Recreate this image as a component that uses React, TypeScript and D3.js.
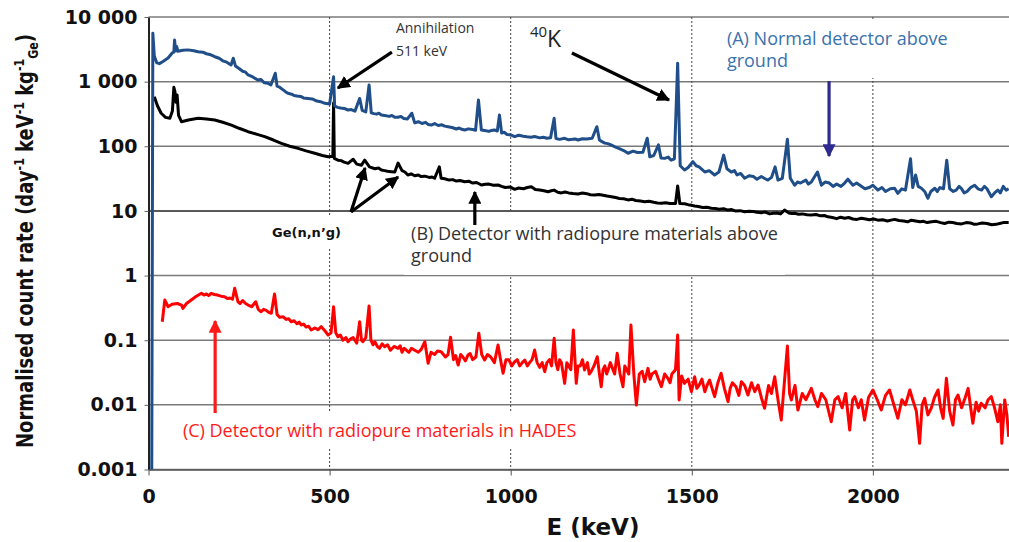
import * as d3 from 'd3';
import { useEffect, useRef } from 'react';

// energy axis (keV) and count-rate axis (log)
const xTicks = [0, 500, 1000, 1500, 2000];
const xTickLabels = ['0', '500', '1000', '1500', '2000'];
const yTicks = [0.001, 0.01, 0.1, 1, 10, 100, 1000, 10000];
const yTickLabels = ['0.001', '0.01', '0.1', '1', '10', '100', '1 000', '10 000'];

// (A) normal detector above ground: [keV, counts/day/keV/kg]
const spectrumA: [number, number][] = [
  [9, 0.001], [12, 5600], [16, 2500], [23, 1950], [30, 1900], [40, 2050], [54, 2320], [66, 2800],
  [70, 2870], [72, 4400], [75, 3000], [78, 3500], [81, 2950], [95, 3050], [109, 3100], [125, 3000],
  [137, 2900], [150, 2850], [160, 2700], [172, 2600], [183, 2430], [195, 2300], [205, 2100],
  [216, 2000], [228, 1810], [234, 2300], [240, 1750], [250, 1600], [260, 1450], [268, 1400],
  [275, 1270], [288, 1180], [302, 1060], [310, 1080], [320, 960], [330, 940], [338, 890], [350, 1350],
  [355, 850], [362, 820], [370, 760], [378, 700], [385, 660], [395, 640], [402, 610], [410, 600],
  [420, 590], [428, 560], [440, 550], [452, 540], [465, 500], [475, 490], [487, 462], [500, 450],
  [511, 1190], [514, 420], [522, 400], [530, 390], [540, 385], [551, 364], [560, 370], [570, 350],
  [583, 550], [590, 360], [600, 340], [609, 890], [615, 330], [622, 320], [630, 315], [636, 325],
  [643, 305], [652, 300], [665, 290], [672, 300], [680, 282], [689, 281], [697, 290], [705, 270],
  [715, 265], [727, 324], [735, 230], [745, 240], [755, 225], [765, 235], [772, 218], [781, 213],
  [790, 225], [800, 210], [810, 215], [818, 205], [827, 201], [838, 195], [850, 185], [858, 192],
  [865, 183], [873, 179], [883, 186], [895, 182], [903, 177], [911, 520], [919, 179], [928, 175],
  [940, 170], [947, 176], [955, 179], [963, 172], [969, 305], [975, 160], [982, 165], [990, 152],
  [1000, 150], [1011, 141], [1022, 148], [1035, 143], [1045, 140], [1056, 138], [1066, 142],
  [1080, 135], [1090, 138], [1100, 133], [1110, 135], [1120, 271], [1125, 132], [1135, 128],
  [1149, 133], [1160, 126], [1170, 128], [1178, 130], [1186, 125], [1198, 131], [1210, 130],
  [1225, 133], [1238, 201], [1245, 125], [1252, 118], [1260, 112], [1268, 110], [1277, 105],
  [1288, 98], [1300, 92], [1312, 86], [1324, 78], [1338, 84], [1350, 80], [1365, 81], [1377, 133],
  [1384, 69], [1395, 72], [1408, 105], [1415, 66], [1425, 65], [1435, 68], [1443, 61], [1452, 64],
  [1461, 1920], [1468, 50], [1480, 43], [1490, 47], [1503, 58], [1512, 50], [1520, 48], [1528, 44],
  [1536, 40], [1548, 42], [1563, 36], [1575, 40], [1588, 73], [1597, 45], [1609, 40], [1618, 42],
  [1625, 36], [1635, 38], [1646, 32], [1658, 35], [1670, 34], [1680, 31], [1692, 34], [1700, 32],
  [1710, 30], [1720, 33], [1730, 48], [1738, 30], [1750, 32], [1764, 128], [1772, 32], [1784, 25],
  [1792, 28], [1800, 27], [1815, 30], [1822, 26], [1830, 28], [1847, 40], [1858, 25], [1868, 28],
  [1880, 27], [1890, 24], [1900, 26], [1912, 24], [1922, 27], [1931, 31], [1945, 25], [1955, 27],
  [1968, 24], [1978, 22], [1990, 23], [2000, 25], [2014, 21], [2025, 23], [2035, 20], [2048, 22],
  [2060, 22.4], [2069, 18.7], [2080, 22], [2090, 21], [2104, 64], [2110, 23], [2118, 36], [2125, 24],
  [2134, 22.4], [2143, 20], [2152, 15.7], [2160, 20], [2171, 22.4], [2178, 20], [2185, 23],
  [2195, 22], [2204, 61], [2212, 22], [2222, 20], [2230, 21], [2238, 24], [2244, 22.4], [2252, 19],
  [2260, 20], [2270, 23], [2281, 25], [2290, 22], [2300, 21], [2308, 24], [2315, 22], [2327, 16.6],
  [2336, 19], [2345, 21], [2352, 19], [2360, 24], [2368, 21], [2375, 22],
];

// (B) radiopure materials above ground
const spectrumB: [number, number][] = [
  [16, 585], [25, 420], [35, 324], [47, 280], [59, 271], [66, 350], [70, 817], [73, 700], [76, 480],
  [79, 620], [83, 300], [91, 240], [110, 255], [137, 271], [160, 265], [183, 255], [205, 235],
  [229, 213], [250, 190], [275, 168], [300, 153], [321, 141], [345, 125], [367, 111], [390, 100],
  [413, 93], [435, 85], [459, 78], [480, 72], [496, 69], [509, 70], [511, 467], [513, 65], [523, 61],
  [532, 60], [540, 57], [551, 54.5], [565, 63], [575, 53], [588, 51], [597, 61], [610, 48],
  [625, 45], [635, 46], [643, 43], [652, 42], [660, 41], [670, 40.5], [680, 40], [689, 55], [700, 42],
  [708, 40], [716, 36], [725, 37.5], [735, 35], [745, 36], [753, 34], [763, 34.5], [775, 33],
  [783, 33.5], [790, 32], [803, 48], [808, 32], [818, 31.5], [830, 30], [840, 30.5], [850, 29],
  [860, 29.5], [873, 28.3], [884, 28.8], [895, 27], [906, 27.5], [919, 25.2], [930, 25.8], [940, 26],
  [952, 25], [965, 25.2], [975, 24], [985, 23], [998, 23.5], [1011, 21.6], [1022, 22.6], [1035, 22],
  [1046, 23], [1057, 23.7], [1068, 21.5], [1080, 21], [1092, 20.5], [1103, 19.8], [1112, 20.5],
  [1120, 21], [1130, 19.5], [1140, 19], [1150, 19.6], [1160, 19], [1172, 18.6], [1186, 18.3],
  [1198, 18.9], [1210, 18.5], [1220, 17.8], [1232, 17.6], [1244, 18], [1255, 17.5], [1266, 17],
  [1278, 16.6], [1290, 16.1], [1300, 15.6], [1312, 15.4], [1324, 14.8], [1335, 15.2], [1345, 14.5],
  [1358, 14.2], [1370, 13.9], [1382, 14.1], [1395, 13.6], [1405, 13.3], [1416, 13.1], [1428, 13.4],
  [1440, 13], [1455, 13], [1461, 24.3], [1467, 13], [1480, 12.9], [1490, 12.5], [1500, 12.2],
  [1508, 11.9], [1518, 11.7], [1530, 11.3], [1542, 11.4], [1554, 11.0], [1565, 10.9], [1575, 10.6],
  [1588, 10.8], [1600, 10.3], [1610, 10.5], [1620, 10], [1633, 10.1], [1646, 9.7], [1658, 9.9],
  [1670, 9.8], [1680, 9.5], [1692, 9.4], [1703, 9.6], [1715, 9], [1725, 9.2], [1735, 9.3],
  [1745, 9.0], [1756, 10.3], [1768, 9.3], [1776, 9.1], [1784, 9.2], [1795, 8.9], [1805, 9],
  [1818, 8.7], [1830, 8.65], [1843, 8.8], [1855, 8.4], [1866, 8.5], [1876, 8.1], [1888, 7.9],
  [1900, 7.6], [1911, 8.0], [1922, 7.7], [1933, 7.9], [1945, 7.5], [1956, 7.4], [1968, 7.7],
  [1980, 7.5], [1990, 7.3], [2002, 7.5], [2014, 7.2], [2027, 7.3], [2040, 7.0], [2050, 7.2],
  [2060, 7.4], [2072, 7.1], [2085, 7.0], [2096, 6.8], [2106, 7.2], [2118, 7.0], [2130, 6.8],
  [2140, 6.9], [2150, 6.6], [2162, 6.8], [2175, 6.9], [2187, 6.6], [2198, 6.4], [2210, 6.7],
  [2220, 6.6], [2232, 6.4], [2245, 6.3], [2258, 6.6], [2270, 6.5], [2280, 6.2], [2290, 6.3],
  [2302, 6.5], [2315, 6.4], [2328, 6.1], [2340, 6.2], [2350, 6.4], [2360, 6.6], [2375, 6.6],
];

// (C) radiopure materials in HADES (underground)
const spectrumC: [number, number][] = [
  [38, 0.193], [45, 0.419], [54, 0.33], [65, 0.36], [80, 0.37], [91, 0.35], [95, 0.311], [105, 0.37],
  [118, 0.419], [130, 0.47], [146, 0.532], [153, 0.5], [160, 0.52], [166, 0.49], [173, 0.532],
  [182, 0.51], [190, 0.5], [200, 0.48], [210, 0.471], [218, 0.44], [225, 0.45], [232, 0.43],
  [238, 0.635], [247, 0.394], [253, 0.37], [260, 0.41], [268, 0.37], [275, 0.35], [285, 0.33],
  [296, 0.394], [303, 0.3], [311, 0.276], [318, 0.3], [325, 0.29], [332, 0.27], [339, 0.261],
  [348, 0.518], [355, 0.25], [362, 0.226], [372, 0.23], [380, 0.21], [387, 0.215], [394, 0.193],
  [402, 0.2], [410, 0.18], [416, 0.19], [422, 0.172], [428, 0.178], [435, 0.16], [442, 0.165],
  [449, 0.144], [460, 0.155], [468, 0.145], [477, 0.162], [487, 0.14], [496, 0.12], [504, 0.13],
  [511, 0.33], [517, 0.13], [523, 0.113], [530, 0.12], [537, 0.1], [545, 0.11], [551, 0.0948],
  [558, 0.105], [565, 0.11], [575, 0.09], [583, 0.193], [588, 0.1], [592, 0.0948], [600, 0.11],
  [609, 0.338], [614, 0.1], [620, 0.085], [625, 0.0948], [632, 0.08], [638, 0.075], [645, 0.088],
  [652, 0.0793], [660, 0.085], [668, 0.07], [678, 0.08], [689, 0.0749], [695, 0.082], [700, 0.065],
  [706, 0.075], [712, 0.07], [719, 0.065], [726, 0.0749], [735, 0.07], [745, 0.065], [753, 0.072],
  [763, 0.0948], [772, 0.0439], [780, 0.065], [790, 0.06], [798, 0.068], [808, 0.0664], [820, 0.055],
  [827, 0.06], [834, 0.111], [842, 0.05], [848, 0.058], [855, 0.0413], [862, 0.06], [868, 0.055],
  [875, 0.048], [882, 0.059], [888, 0.062], [895, 0.05], [904, 0.055], [912, 0.128], [920, 0.06],
  [928, 0.0494], [936, 0.06], [945, 0.055], [955, 0.045], [965, 0.0843], [972, 0.05], [979, 0.0308],
  [987, 0.05], [995, 0.05], [1003, 0.04], [1011, 0.0465], [1018, 0.05], [1025, 0.04], [1032, 0.045],
  [1039, 0.0494], [1046, 0.04], [1052, 0.045], [1059, 0.05], [1066, 0.0705], [1073, 0.045],
  [1080, 0.038], [1087, 0.045], [1094, 0.0326], [1100, 0.045], [1107, 0.05], [1113, 0.04],
  [1120, 0.107], [1125, 0.045], [1130, 0.035], [1135, 0.05], [1140, 0.045], [1149, 0.0215],
  [1155, 0.045], [1160, 0.04], [1166, 0.035], [1173, 0.144], [1181, 0.0215], [1186, 0.04],
  [1192, 0.04], [1198, 0.05], [1204, 0.0346], [1212, 0.045], [1217, 0.03], [1222, 0.0326],
  [1230, 0.04], [1239, 0.0556], [1245, 0.03], [1250, 0.0191], [1255, 0.035], [1260, 0.04],
  [1265, 0.03], [1269, 0.0346], [1275, 0.045], [1280, 0.038], [1287, 0.03], [1294, 0.0627],
  [1302, 0.03], [1310, 0.0191], [1315, 0.04], [1320, 0.035], [1326, 0.03], [1332, 0.172],
  [1340, 0.03], [1347, 0.00994], [1355, 0.03], [1363, 0.033], [1370, 0.0228], [1379, 0.0367],
  [1385, 0.025], [1390, 0.03], [1400, 0.033], [1407, 0.0257], [1416, 0.0191], [1425, 0.03],
  [1434, 0.0257], [1440, 0.022], [1445, 0.03], [1455, 0.035], [1461, 0.12], [1465, 0.0119],
  [1472, 0.028], [1480, 0.0215], [1490, 0.025], [1499, 0.016], [1508, 0.0272], [1514, 0.018],
  [1520, 0.02], [1528, 0.025], [1536, 0.016], [1542, 0.02], [1549, 0.0242], [1556, 0.018],
  [1563, 0.0134], [1572, 0.022], [1581, 0.0308], [1590, 0.018], [1600, 0.0112], [1606, 0.018],
  [1612, 0.022], [1622, 0.019], [1630, 0.014], [1637, 0.0228], [1646, 0.02], [1655, 0.0142],
  [1665, 0.022], [1674, 0.016], [1683, 0.0203], [1692, 0.013], [1701, 0.00884], [1712, 0.02],
  [1720, 0.015], [1729, 0.0272], [1738, 0.012], [1747, 0.00583], [1755, 0.02], [1764, 0.0813],
  [1770, 0.015], [1775, 0.0119], [1785, 0.02], [1793, 0.00832], [1805, 0.015], [1815, 0.012],
  [1830, 0.018], [1840, 0.012], [1848, 0.00936], [1858, 0.015], [1870, 0.012], [1885, 0.00548],
  [1895, 0.012], [1904, 0.0134], [1915, 0.009], [1925, 0.015], [1936, 0.00408], [1944, 0.012],
  [1950, 0.0134], [1960, 0.009], [1968, 0.012], [1977, 0.00583], [1988, 0.013], [2000, 0.017],
  [2012, 0.012], [2023, 0.00832], [2035, 0.014], [2046, 0.017], [2058, 0.01], [2069, 0.0062],
  [2080, 0.012], [2090, 0.01], [2102, 0.017], [2110, 0.012], [2120, 0.008], [2129, 0.00254],
  [2136, 0.01], [2143, 0.0126], [2152, 0.007], [2161, 0.00884], [2170, 0.013], [2180, 0.017],
  [2187, 0.009], [2194, 0.0062], [2203, 0.0257], [2212, 0.008], [2221, 0.00488], [2228, 0.012],
  [2235, 0.0142], [2245, 0.009], [2255, 0.013], [2263, 0.018], [2270, 0.009], [2276, 0.00518],
  [2285, 0.011], [2292, 0.008], [2299, 0.0106], [2310, 0.009], [2318, 0.012], [2327, 0.0134],
  [2336, 0.009], [2345, 0.00548], [2352, 0.01], [2356, 0.00254], [2364, 0.0119], [2370, 0.007],
  [2375, 0.0032],
];

export default function App() {
  const ref = useRef<SVGSVGElement | null>(null);

  useEffect(() => {
    const width = 1009;
    const height = 542;
    const svg = d3.select(ref.current);
    svg.selectAll('*').remove();
    svg.attr('width', width).attr('height', height);

    const x = d3.scaleLinear().domain([0, 2375]).range([148.5, 1008.7]);
    const y = d3.scaleLog().domain([0.001, 10000]).range([469.5, 17]);

    /* ---------- markers ---------- */
    const defs = svg.append('defs');
    const markerColors: Record<string, string> = { black: '#000', navy: '#2e2b8f', red: '#ff1a1a' };
    Object.entries(markerColors).forEach(([k, c]) => {
      defs
        .append('marker')
        .attr('id', `head-${k}`)
        .attr('viewBox', '0 0 10 10')
        .attr('refX', 9)
        .attr('refY', 5)
        .attr('markerUnits', 'userSpaceOnUse')
        .attr('markerWidth', 13)
        .attr('markerHeight', 13)
        .attr('orient', 'auto')
        .append('path')
        .attr('d', 'M0,0 L10,5 L0,10 z')
        .attr('fill', c);
    });

    /* ---------- grid ---------- */
    svg
      .append('g')
      .selectAll('line')
      .data(yTicks)
      .join('line')
      .attr('x1', x(0))
      .attr('x2', width)
      .attr('y1', d => y(d))
      .attr('y2', d => y(d))
      .attr('stroke', d => (d === 10 ? '#222' : '#7a7a7a'))
      .attr('stroke-width', 1.5);

    svg
      .append('g')
      .selectAll('line')
      .data(xTicks.slice(1))
      .join('line')
      .attr('x1', d => x(d))
      .attr('x2', d => x(d))
      .attr('y1', y(10000))
      .attr('y2', y(0.001))
      .attr('stroke', '#444')
      .attr('stroke-width', 1)
      .attr('stroke-dasharray', '2,2');

    const boxLayer = svg.append('g');

    /* ---------- axes ---------- */
    const yAxis = svg
      .append('g')
      .attr('transform', `translate(${x(0)},0)`)
      .call(
        d3
          .axisLeft(y)
          .tickValues(yTicks)
          .tickFormat((_d, i) => yTickLabels[i])
          .tickSize(4)
          .tickSizeOuter(0)
          .tickPadding(7)
      );
    yAxis.select('.domain').attr('stroke', '#222').attr('stroke-width', 2);
    yAxis.selectAll('.tick line').attr('stroke', '#666');
    yAxis
      .selectAll('text')
      .attr('font-family', 'DejaVu Sans')
      .attr('font-weight', 'bold')
      .attr('font-size', 19)
      .attr('fill', '#111');

    const xAxis = svg
      .append('g')
      .attr('transform', `translate(0,${y(0.001)})`)
      .call(
        d3
          .axisBottom(x)
          .tickValues(xTicks)
          .tickFormat((_d, i) => xTickLabels[i])
          .tickSize(6)
          .tickSizeOuter(0)
          .tickPadding(14)
      );
    xAxis.select('.domain').attr('stroke', '#555').attr('stroke-width', 1.5);
    xAxis.selectAll('.tick line').attr('stroke', '#555');
    xAxis
      .selectAll('text')
      .attr('font-family', 'DejaVu Sans')
      .attr('font-weight', 'bold')
      .attr('font-size', 19)
      .attr('fill', '#111');

    svg
      .append('text')
      .attr('x', 593)
      .attr('y', 535)
      .attr('text-anchor', 'middle')
      .attr('font-family', 'DejaVu Sans')
      .attr('font-weight', 'bold')
      .attr('font-size', 23)
      .attr('fill', '#111')
      .text('E (keV)');

    const yTitle = svg
      .append('text')
      .attr('transform', 'translate(33,241) scale(1.3,1) rotate(-90)')
      .attr('text-anchor', 'middle')
      .attr('font-family', 'DejaVu Sans')
      .attr('font-weight', 'bold')
      .attr('font-size', 18)
      .attr('fill', '#111');
    yTitle.append('tspan').text('Normalised count rate (day');
    yTitle.append('tspan').attr('dy', -7).attr('font-size', 11).text('-1');
    yTitle.append('tspan').attr('dy', 7).text(' keV');
    yTitle.append('tspan').attr('dy', -7).attr('font-size', 11).text('-1');
    yTitle.append('tspan').attr('dy', 7).text(' kg');
    yTitle.append('tspan').attr('dy', -7).attr('font-size', 11).text('-1');
    yTitle.append('tspan').attr('dy', 11).attr('font-size', 11).text('Ge');
    yTitle.append('tspan').attr('dy', -4).text(')');

    /* ---------- spectra ---------- */
    const line = d3
      .line<[number, number]>()
      .x(d => x(d[0]))
      .y(d => y(d[1]));

    const series = [
      { data: spectrumB, color: '#000000' },
      { data: spectrumA, color: '#1f4e89' },
      { data: spectrumC, color: '#ff0000' },
    ];
    svg
      .append('g')
      .selectAll('path')
      .data(series)
      .join('path')
      .attr('d', d => line(d.data))
      .attr('fill', 'none')
      .attr('stroke', d => d.color)
      .attr('stroke-width', 3)
      .attr('stroke-linejoin', 'round');

    /* ---------- annotations ---------- */
    const ann = svg.append('g').attr('font-family', 'Open Sans');

    const arrow = (e1: number, v1: number, e2: number, v2: number, color: string, head: string) =>
      ann
        .append('line')
        .attr('x1', x(e1))
        .attr('y1', y(v1))
        .attr('x2', x(e2))
        .attr('y2', y(v2))
        .attr('stroke', color)
        .attr('stroke-width', 3.2)
        .attr('marker-end', `url(#head-${head})`);

    const label = (e: number, v: number, lines: string[], size: number, color: string, gap: number) => {
      const t = ann
        .append('text')
        .attr('x', x(e))
        .attr('y', y(v))
        .attr('font-size', size)
        .attr('fill', color);
      lines.forEach((l, i) =>
        t
          .append('tspan')
          .attr('x', x(e))
          .attr('dy', i === 0 ? 0 : gap)
          .text(l)
      );
      return t;
    };

    // annihilation 511 keV
    label(683, 5650, ['Annihilation', '511 keV'], 14, '#333', 23);
    arrow(672, 2870, 523, 797, '#000', 'black');

    // 40K
    const k40 = ann.append('text').attr('x', x(1053)).attr('y', y(3440)).attr('fill', '#222');
    k40.append('tspan').attr('font-size', 15).attr('dy', -10).text('40');
    k40.append('tspan').attr('font-size', 23).attr('dy', 10).text('K');
    arrow(1169, 2770, 1437, 520, '#000', 'black');

    // (A)
    const labA = label(1597, 3700, ['(A) Normal detector above', 'ground'], 18, '#3a72ab', 22);
    arrow(1879, 1023, 1879, 70.7, '#2e2b8f', 'navy');

    // (B)
    const labB = label(725, 3.55, ['(B) Detector with radiopure materials above', 'ground'], 18, '#333', 22);
    arrow(901, 6.05, 901, 19.6, '#000', 'black');

    // Ge(n,n'g)
    const labGe = ann
      .append('text')
      .attr('x', x(341))
      .attr('y', y(3.95))
      .attr('font-family', 'DejaVu Sans')
      .attr('font-weight', 'bold')
      .attr('font-size', 13)
      .attr('fill', '#111')
      .text('Ge(n,n’g)');
    arrow(559, 9.62, 598, 46.1, '#000', 'black');
    arrow(559, 9.62, 689, 33.5, '#000', 'black');

    // (C)
    const labC = label(95, 0.00318, ['(C) Detector with radiopure materials in HADES'], 18, '#ff1a1a', 0);
    arrow(184, 0.00748, 184, 0.198, '#ff1a1a', 'red');

    // white boxes behind labels (cut the grid)
    const boxes: [typeof labA, number, number][] = [
      [labA, 5, 6],
      [labB, 7, 8],
      [labC, 6, 7],
      [labGe, 8, 9],
    ];
    boxes.forEach(([t, px, py]) => {
      const b = (t.node() as SVGTextElement).getBBox();
      boxLayer
        .append('rect')
        .attr('x', b.x - px)
        .attr('y', b.y - py)
        .attr('width', b.width + 2 * px)
        .attr('height', b.height + 2 * py)
        .attr('fill', '#fff');
    });
  }, []);

  return (
    <div>
      <svg ref={ref} style={{ position: 'absolute', left: 0, top: 0, background: '#fff' }} />
    </div>
  );
}
